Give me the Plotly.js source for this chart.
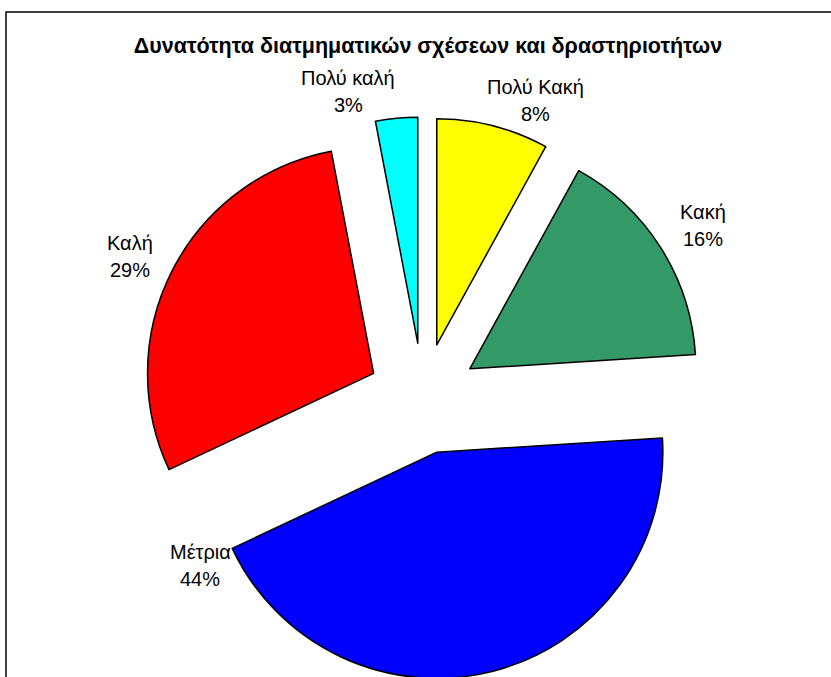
<!DOCTYPE html>
<html>
<head>
<meta charset="utf-8">
<script src="https://cdn.plot.ly/plotly-3.0.1.min.js"></script>
<style>
html,body{margin:0;padding:0;background:#fff;overflow:hidden;}
#chart{width:831px;height:680px;}
</style>
</head>
<body>
<div id="chart"></div>
<script>
// Data
const categories = ["Πολύ Κακή", "Κακή", "Μέτρια", "Καλή", "Πολύ καλή"];
const values = [8, 16, 44, 29, 3];
const colors = ["#FFFF00", "#339966", "#0000FF", "#FF0000", "#00FFFF"];
const chartTitle = "Δυνατότητα διατμηματικών σχέσεων και δραστηριοτήτων";

// Label placement (pixels in the page)
const labelPos = [[535, 87], [703, 212], [200, 552], [130, 243], [348, 78]];
const lineGap = 27;

const W = 831, H = 680;
const total = values.reduce((a, b) => a + b, 0);
const font = "Liberation Sans, Arial, sans-serif";

const annotations = [];
categories.forEach((c, i) => {
  const pct = Math.round(values[i] / total * 100) + "%";
  const [px, py] = labelPos[i];
  annotations.push({xref: "paper", yref: "paper", x: px / W, y: 1 - py / H,
    text: c, showarrow: false, xanchor: "center", yanchor: "middle",
    font: {family: font, size: 20, color: "#000"}});
  annotations.push({xref: "paper", yref: "paper", x: px / W, y: 1 - (py + lineGap) / H,
    text: pct, showarrow: false, xanchor: "center", yanchor: "middle",
    font: {family: font, size: 20, color: "#000"}});
});

const pieSize = 563;
const trace = {
  type: "pie",
  labels: categories,
  values: values,
  sort: false,
  direction: "clockwise",
  rotation: 0,
  pull: values.map(() => 0.245),
  textinfo: "none",
  hoverinfo: "label+percent",
  marker: {colors: colors, line: {color: "#000", width: 1.5}},
  domain: {x: [(423 - pieSize / 2) / W, (423 + pieSize / 2) / W], y: [0, pieSize / H]},
  showlegend: false
};

const layout = {
  width: W, height: H,
  margin: {l: 0, r: 0, t: 0, b: 0},
  paper_bgcolor: "#fff",
  showlegend: false,
  title: {text: "<b>" + chartTitle + "</b>", x: 428 / W, xanchor: "center",
    y: 1 - 45 / H, yanchor: "middle", xref: "paper", yref: "paper",
    font: {family: font, size: 21.5, color: "#000"}},
  annotations: annotations,
  shapes: [{type: "rect", xref: "paper", yref: "paper",
    x0: 6 / W, x1: 1.05, y0: -0.05, y1: 1 - 12 / H,
    line: {color: "#000", width: 1.5}, fillcolor: "rgba(0,0,0,0)"}]
};

Plotly.newPlot("chart", [trace], layout, {displayModeBar: false, staticPlot: true});
</script>
</body>
</html>
